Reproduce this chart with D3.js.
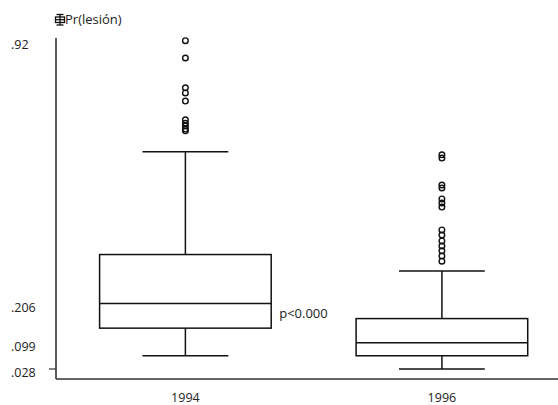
<!DOCTYPE html>
<html>
<head>
<meta charset="utf-8">
<script src="https://cdn.jsdelivr.net/npm/d3@7"></script>
<style>
  body { margin: 0; background: #fff; }
  text { font-family: "Open Sans", "DejaVu Sans", sans-serif; fill: #222; }
</style>
</head>
<body>
<div id="chart"></div>
<script>
const years = ['1994', '1996']
const q1 = [0.139, 0.064]
const median = [0.206, 0.099]
const q3 = [0.339, 0.165]
const whiskerLow = [0.064, 0.028]
const whiskerHigh = [0.618, 0.294]
const outliers1994 = [0.92, 0.873, 0.792, 0.778, 0.756, 0.705, 0.696, 0.688, 0.680, 0.675]
const outliers1996 = [0.610, 0.601, 0.528, 0.520, 0.490, 0.479, 0.468, 0.406, 0.392, 0.376, 0.362, 0.349, 0.335, 0.321]
const tickValues = [0.92, 0.206, 0.099, 0.028]
const tickLabels = ['.92', '.206', '.099', '.028']
const yTitle = 'Pr(lesión)'
const note = 'p<0.000'

const width = 558, height = 405
const svg = d3.select('#chart').append('svg')
  .attr('width', width)
  .attr('height', height)

let x = d3.scaleBand().domain(years).range([56, 558])
  .paddingInner(0.331).paddingOuter(0.144).align(0.59)
let y = d3.scaleLinear().domain([0.028, 0.92]).range([369, 40.7])

// axes
svg.append('line').attr('x1', 56).attr('x2', 56).attr('y1', 38).attr('y2', 379)
  .attr('stroke', '#333').attr('stroke-width', 1.6)
svg.append('line').attr('x1', 56).attr('x2', 558).attr('y1', 379).attr('y2', 379)
  .attr('stroke', '#333').attr('stroke-width', 1.6)
svg.append('line').attr('x1', 49).attr('x2', 56).attr('y1', y(0.028)).attr('y2', y(0.028))
  .attr('stroke', '#333').attr('stroke-width', 1.2)

svg.selectAll('.ytick').data(tickValues).enter().append('text')
  .attr('class', 'ytick')
  .attr('x', 11)
  .attr('y', d => y(d) + 4)
  .attr('dy', '0.35em')
  .attr('font-size', 12.5)
  .text((d, i) => tickLabels[i])

svg.selectAll('.xtick').data(years).enter().append('text')
  .attr('class', 'xtick')
  .attr('x', d => x(d) + x.bandwidth() / 2)
  .attr('y', 402)
  .attr('text-anchor', 'middle')
  .attr('font-size', 12.5)
  .text(d => d)

// title with little boxplot glyph
let icon = svg.append('g').attr('stroke', '#111').attr('stroke-width', 1.3).attr('fill', 'none')
icon.append('line').attr('x1', 60).attr('x2', 60).attr('y1', 14.5).attr('y2', 25)
icon.append('line').attr('x1', 56.5).attr('x2', 63.5).attr('y1', 14.5).attr('y2', 14.5)
icon.append('line').attr('x1', 56.5).attr('x2', 63.5).attr('y1', 25).attr('y2', 25)
icon.append('rect').attr('x', 55.5).attr('y', 17).attr('width', 9).attr('height', 5.5)
icon.append('line').attr('x1', 55.5).attr('x2', 64.5).attr('y1', 19.7).attr('y2', 19.7)
svg.append('text').attr('x', 65).attr('y', 23.5).attr('font-size', 13).text(yTitle)

// boxes
const capFrac = 0.5
years.forEach((yr, i) => {
  let g = svg.append('g').attr('stroke', '#111').attr('stroke-width', 1.5).attr('fill', 'none')
  let x0 = x(yr), bw = x.bandwidth(), cx = x0 + bw / 2, cw = bw * capFrac
  g.append('rect').attr('x', x0).attr('y', y(q3[i]))
    .attr('width', bw).attr('height', y(q1[i]) - y(q3[i]))
  g.append('line').attr('x1', x0).attr('x2', x0 + bw).attr('y1', y(median[i])).attr('y2', y(median[i]))
  g.append('line').attr('x1', cx).attr('x2', cx).attr('y1', y(q3[i])).attr('y2', y(whiskerHigh[i]))
  g.append('line').attr('x1', cx).attr('x2', cx).attr('y1', y(q1[i])).attr('y2', y(whiskerLow[i]))
  g.append('line').attr('x1', cx - cw / 2).attr('x2', cx + cw / 2).attr('y1', y(whiskerHigh[i])).attr('y2', y(whiskerHigh[i]))
  g.append('line').attr('x1', cx - cw / 2).attr('x2', cx + cw / 2).attr('y1', y(whiskerLow[i])).attr('y2', y(whiskerLow[i]))

  let pts = i === 0 ? outliers1994 : outliers1996
  g.selectAll('circle').data(pts).enter().append('circle')
    .attr('cx', cx).attr('cy', d => y(d)).attr('r', 2.8)
    .attr('stroke-width', 1.4)
})

svg.append('text')
  .attr('x', x('1994') + x.bandwidth() + 8)
  .attr('y', y(median[0]) + 10)
  .attr('dy', '0.35em')
  .attr('font-size', 13)
  .text(note)
</script>
</body>
</html>
